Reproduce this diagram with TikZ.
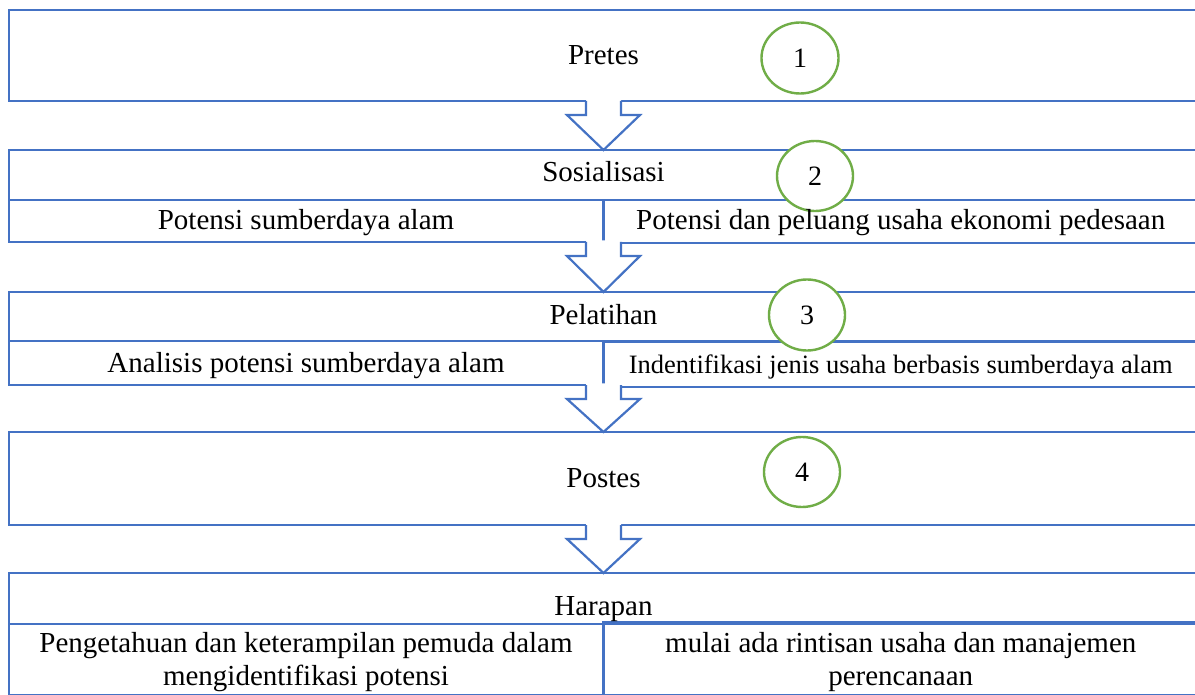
\documentclass[tikz,border=0pt]{standalone}
\usepackage{fontspec}
\setmainfont{Liberation Serif}
\usetikzlibrary{calc,shapes.geometric}
\definecolor{boxblue}{HTML}{4472C4}
\definecolor{ringgreen}{HTML}{70AD47}
\newcommand{\blockarrow}[2]{%
  \path[fill=white] ($(#1)+(-17.5,-1.6)$) -- ($(#1)+(-17.5,14)$) -- ($(#1)+(-36.5,14)$) -- (#2)
    -- ($(#1)+(36.5,14)$) -- ($(#1)+(17.5,14)$) -- ($(#1)+(17.5,-1.6)$) -- cycle;
  \draw[arrowline] ($(#1)+(-17.5,0)$) -- ($(#1)+(-17.5,14)$) -- ($(#1)+(-36.5,14)$) -- (#2)
    -- ($(#1)+(36.5,14)$) -- ($(#1)+(17.5,14)$) -- ($(#1)+(17.5,0)$);
}
\begin{document}
\begin{tikzpicture}[x=1pt,y=-1pt,
  boxT/.style={draw=boxblue, line width=2.2pt, rectangle, outer sep=0pt, inner sep=0pt, anchor=north west},
  lab/.style={inner sep=0pt, anchor=base, font=\fontsize{29}{33}\selectfont},
  labsmall/.style={lab, font=\fontsize{26.5}{30}\selectfont},
  ring/.style={draw=ringgreen, fill=white, line width=2.4pt, ellipse, inner sep=0pt, font=\fontsize{28}{30}\selectfont},
  arrowline/.style={draw=boxblue, line width=2.2pt, line join=miter}]
\clip (0,0) rectangle (1195,695);
\fill[white] (0,0) rectangle (1195,695);
% boxes
\node[boxT, minimum width=1189pt, minimum height=91pt] (pretes) at (9,10) {};
\node[boxT, minimum width=1189pt, minimum height=50pt] (sos) at (9,150) {};
\node[boxT, minimum width=594.5pt, minimum height=42pt] (sosL) at (9,200) {};
\node[boxT, minimum width=594.5pt, minimum height=43pt] (sosR) at (603.5,200) {};
\node[boxT, minimum width=1189pt, minimum height=49pt] (pel) at (9,292) {};
\node[boxT, minimum width=594.5pt, minimum height=44pt] (pelL) at (9,341) {};
\node[boxT, minimum width=594.5pt, minimum height=45pt] (pelR) at (603.5,342) {};
\node[boxT, minimum width=1189pt, minimum height=93pt] (postes) at (9,432) {};
\node[boxT, minimum width=1189pt, minimum height=51pt] (har) at (9,573) {};
\node[boxT, minimum width=594.5pt, minimum height=71.5pt] (harL) at (9,624) {};
\node[boxT, minimum width=594.5pt, minimum height=73.5pt] (harR) at (603.5,622) {};
% arrows
\blockarrow{pretes.south}{sos.north}
\blockarrow{sosL.south east}{pel.north}
\blockarrow{pelL.south east}{postes.north}
\blockarrow{postes.south}{har.north}
% numbered rings
\node[ring, minimum width=77pt, minimum height=71pt] (r1) at (800,58) {1};
\node[ring, minimum width=76pt, minimum height=70pt] (r2) at (815,176) {2};
\node[ring, minimum width=76pt, minimum height=71pt] (r3) at (807,315) {3};
\node[ring, minimum width=76pt, minimum height=70pt] (r4) at (802,472) {4};
% texts
\node[lab] (tPretes) at (603.5,65) {Pretes};
\node[lab] (tSos) at (603.5,182) {Sosialisasi};
\node[lab] (tSosL) at (306,230) {Potensi sumberdaya alam};
\node[lab] (tSosR) at (900.75,230) {Potensi dan peluang usaha ekonomi pedesaan};
\node[lab] (tPel) at (603.5,324) {Pelatihan};
\node[lab] (tPelL) at (306,372) {Analisis potensi sumberdaya alam};
\node[labsmall] (tPelR) at (900.75,373) {Indentifikasi jenis usaha berbasis sumberdaya alam};
\node[lab] (tPost) at (603.5,487) {Postes};
\node[lab] (tHar) at (603.5,615) {Harapan};
\node[lab] (tHarL1) at (306,652) {Pengetahuan dan keterampilan pemuda dalam};
\node[lab] (tHarL2) at (306,685) {mengidentifikasi potensi};
\node[lab] (tHarR1) at (900.75,652) {mulai ada rintisan usaha dan manajemen};
\node[lab] (tHarR2) at (900.75,685) {perencanaan};
\end{tikzpicture}
\end{document}
